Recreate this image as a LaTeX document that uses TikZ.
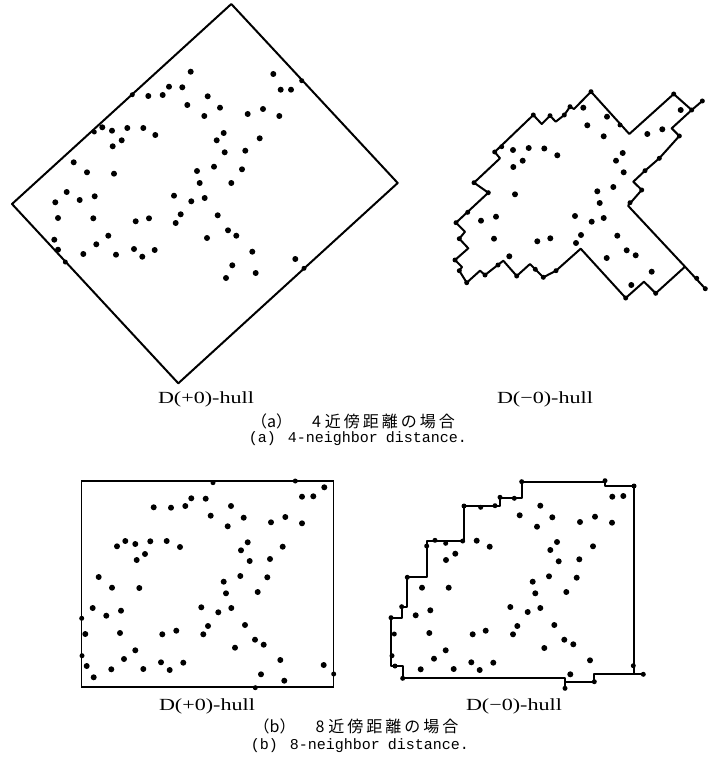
\documentclass[tikz,border=0pt]{standalone}
\usepackage{fontspec}
\setmainfont{Liberation Serif}
\newfontfamily\jpfont{Noto Sans CJK JP}
\newfontfamily\capfont{Liberation Mono}
\newfontfamily\hullfont[FakeStretch=1.3]{Liberation Serif}
\newcommand\ksp{\hspace{3pt}}
\begin{document}
\begin{tikzpicture}[x=1pt,y=-1pt]
\tikzset{
  hull/.style={line width=2pt, line join=round},
  frame/.style={line width=1.4pt},
  hulllabel/.style={font=\hullfont\fontsize{17}{19}\selectfont, inner sep=0pt},
  jpcap/.style={font=\jpfont\fontsize{16}{18}\selectfont, inner sep=0pt},
  encap/.style={font=\capfont\fontsize{15}{17}\selectfont, inner sep=0pt}
}
\useasboundingbox (0,0) rectangle (712,770);
\fill[white] (0,0) rectangle (712,770);

% ---------- (a) left: D(+0)-hull ----------
\draw[hull] (231.3,4) -- (397.7,183) -- (178.3,383.3) -- (12,204) -- cycle;
\foreach \x/\y in {190.7/71.7, 273.3/74, 148.3/96, 162.7/95, 169/86.7, 182.3/87.3, 207.7/96.3, 280.7/89.7, 291/89.7, 187.3/105, 220/107.7, 204.3/116, 247.7/114, 263/109, 279.3/116, 102.3/127.3, 112/130.7, 127.3/128, 143.3/128, 155.3/135, 121.7/140.3, 112.7/146.3, 223.7/133, 216.7/140.3, 259.7/138.3, 224.7/152.3, 245.3/150.7, 73.7/162.3, 87/172.3, 114/173.7, 197/171, 214/166.7, 242/169.3, 199.7/183, 231.3/183, 66.7/192, 55.3/202.3, 79.7/200, 94.7/196.3, 174/195.7, 191.3/201.3, 204.7/198, 58/218, 93.3/218.3, 135.7/221.3, 149/218.3, 180.7/214.3, 175.7/223, 217.7/215.3, 54.3/239.7, 58/249.7, 83.3/254, 96.3/244.3, 108.3/235.7, 116/254.7, 134/249, 142.3/256.7, 154.7/250, 207/238, 228/230.3, 236.3/235.7, 252.3/251.7, 232.3/265.3, 255.7/273, 226/278, 295.3/259}
  \fill (\x,\y) circle[radius=3pt];
\foreach \x/\y in {301.7/80.7, 132.3/94.7, 94.3/132, 65.3/262, 304/268.3}
  \fill (\x,\y) circle[radius=2.5pt];

% ---------- (a) right: D(-0)-hull ----------
\draw[hull] (494.7,152) -- (533.3,115) -- (541.7,124) -- (550,115.7) -- (555.7,121.7) -- (564.3,115) -- (570,106.7) -- (574,109) -- (591,91.7) -- (629.3,134) -- (673.7,94) -- (691.7,110) -- (671.7,128.3) -- (679.3,136) -- (659.3,158.3) -- (645,170.7) -- (633.3,181.7) -- (641.7,190) -- (628,205.7) -- (685,266.7) -- (655.7,293.3) -- (644,281.7) -- (625.7,298) -- (580.7,248.7) -- (556,270.7) -- (543.3,277.3) -- (530,264) -- (516.7,276) -- (503.3,260.7) -- (485,275) -- (480,270.7) -- (466.7,282.7) -- (459.3,270.7) -- (462,267) -- (455,260) -- (468.3,248.3) -- (459.3,238.7) -- (465,231.7) -- (456,222.7) -- (488.3,192.7) -- (474,182.7) -- (500,158.3) -- cycle;
\draw[hull] (691.7,110) -- (702.3,101);
\draw[hull] (685,266.7) -- (705.3,288.7);
\foreach \x/\y in {583.3/107.7, 607/116.7, 587.3/125.3, 603.7/136.3, 647.3/134, 662.3/129.3, 680.7/110, 513/150, 528.7/148, 544.3/148.5, 557.3/155.3, 522.7/160.7, 513.3/167, 622.7/153, 616/160.7, 623.7/172.3, 613.3/187, 597.3/191.3, 599.7/203, 515/194.3, 481/220.7, 496/216.7, 575/216, 591.7/221.7, 603.7/218, 494/238.7, 537.3/241.3, 550.3/238.3, 581/235, 576/243, 617.3/235.7, 626.7/250.3, 635.7/255.3, 606.7/258, 509.3/256.3, 651.7/271.7, 631.3/285}
  \fill (\x,\y) circle[radius=3pt];
\foreach \x/\y in {501.7/146.7, 533.3/115, 550/115.7, 564.3/115, 570/106.7, 591/91.7, 620/125, 673.7/94, 691.7/110, 702.3/101, 679.3/136, 659.3/158.3, 645/170.7, 641.7/190, 630/202.7, 696.7/278.3, 705.3/288.7, 655.7/293.3, 625.7/298, 556/270.7, 543.3/277.3, 535.3/269.3, 516.7/276, 498/265, 485/275, 466.7/282.7, 459.3/270.7, 455/260, 459.3/238.7, 456/222.7, 467.7/212.3, 488.3/192.7, 474/182.7, 494.7/152}
  \fill (\x,\y) circle[radius=2.5pt];

% ---------- (a) captions ----------
\node[hulllabel] (la1) at (206,399) {D(+0)-hull};
\node[hulllabel] (la2) at (545,399) {D(−0)-hull};
\node[jpcap] (ca1) at (353,421) {（a）\hspace{20pt}4\hspace{4pt}近\ksp 傍\ksp 距\ksp 離\ksp の\ksp 場\ksp 合};
\node[encap] (ca2) at (358,439) {(a)\hspace{12pt}4-neighbor\hspace{8pt}distance.};

% ---------- (b) left: D(+0)-hull ----------
\draw[frame] (81.5,481) rectangle (333.5,687);
\foreach \x/\y in {324.3/487.3, 302/496.7, 313.3/496.3, 191.3/498.3, 205.7/498.7, 153.7/507.3, 171/507.7, 185.3/506, 231/506, 210.7/515.7, 243.7/517.7, 227.7/526.3, 271/522.3, 285.3/517, 302/523.3, 117/546.3, 125.3/541, 135.3/544, 150.3/541.3, 166.7/541, 180/547, 145/554, 136.7/560, 247.7/542.3, 241/550.3, 282.7/546.7, 249.7/561, 270/559, 98.7/577, 240.3/576, 267.3/577.3, 223.7/581.7, 112/587.7, 139.3/588, 226/593.3, 257.7/592, 92.7/608, 121/610.7, 106.3/615.7, 201.3/607.3, 231.3/608, 218.3/612.3, 85.3/634, 120/633, 162.3/634.3, 176.3/630.7, 208/626, 203.3/634.3, 245/625, 255/639.7, 263.7/644.7, 235/647.7, 135.3/650.3, 124/659, 86.7/666, 161/662.3, 183.3/662.7, 280.3/660, 323.7/665, 111.3/669.3, 143.3/669, 169.7/670, 93.7/677.3, 261/674.3, 284.3/680.7}
  \fill (\x,\y) circle[radius=3pt];
\foreach \x/\y in {213/482.7, 295.3/481, 81.7/618.3, 82/655.7, 255.3/687.7, 333.7/674}
  \fill (\x,\y) circle[radius=2.5pt];

% ---------- (b) right: D(-0)-hull ----------
\draw[hull] (521.5,481.5) -- (605,481.5) -- (605,485.5) -- (633.5,485.5) -- (633.5,674.3) -- (594.3,674.3) -- (594.3,681.7) -- (565,681.7) -- (565,678.3) -- (402.7,678.3) -- (402.7,665.7) -- (391,665.7) -- (391,618) -- (402,618) -- (402,607) -- (407,607) -- (407,577.3) -- (426.5,577.3) -- (426.5,541) -- (463.5,541) -- (463.5,506) -- (500,506) -- (500,498.3) -- (521.5,498.3) -- cycle;
\draw[hull] (565,681.7) -- (565,688.3);
\draw[hull] (633.5,674.3) -- (643.3,674.3);
\foreach \x/\y in {612.3/496.7, 623.3/496, 540.3/505.7, 519.7/515.3, 552.3/517.3, 537/526.7, 580/522, 595/516.7, 612/522.7, 476.7/540.7, 489.7/546.7, 455.3/553.7, 446/560, 557/542, 550.3/550, 593/546.3, 558.7/561.3, 579.3/559.3, 549/576.3, 576.7/577.7, 532.7/581.7, 422/587.7, 448.7/587.7, 535.3/593.3, 566.3/592, 415.7/615.3, 430.3/610.3, 510.3/607, 527.7/612, 540.3/608, 429.3/633, 472.7/634.3, 485.7/630.7, 517.3/626, 513/634.3, 554.3/625, 564.3/639.7, 573.3/644.3, 544.3/648, 445.7/650.3, 434/658.7, 420.7/669.3, 453.7/669, 471.3/662.3, 479.7/670, 493.3/662.7, 590/660.3, 570.3/674.3}
  \fill (\x,\y) circle[radius=3pt];
\foreach \x/\y in {521.7/481.7, 605/480.7, 634/486, 514.3/498.3, 500/497.3, 495/505.7, 480.7/507.3, 464/506, 462.7/541, 445.7/543.3, 435/540.3, 426.7/546, 407.3/577.3, 401.7/606.7, 391/617.7, 392/655.7, 395/666, 402.7/678.3, 565/688.3, 594.3/681.7, 633.3/665.7, 643.3/674.3, 394.3/634}
  \fill (\x,\y) circle[radius=2.5pt];

% ---------- (b) captions ----------
\node[hulllabel] (lb1) at (207,706) {D(+0)-hull};
\node[hulllabel] (lb2) at (514,706) {D(−0)-hull};
\node[jpcap] (cb1) at (356,726) {（b）\hspace{20pt}8\hspace{4pt}近\ksp 傍\ksp 距\ksp 離\ksp の\ksp 場\ksp 合};
\node[encap] (cb2) at (360,746) {(b)\hspace{12pt}8-neighbor\hspace{8pt}distance.};
\end{tikzpicture}
\end{document}
